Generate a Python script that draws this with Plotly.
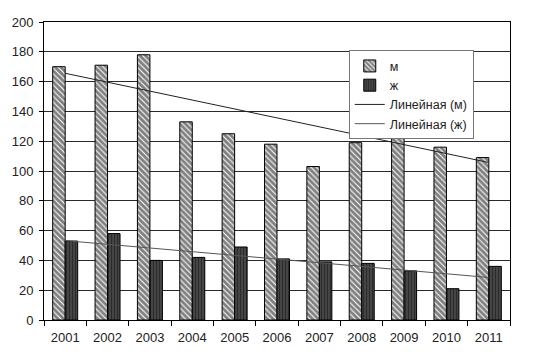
import numpy as np
import plotly.graph_objects as go

years = ["2001", "2002", "2003", "2004", "2005", "2006", "2007", "2008", "2009", "2010", "2011"]
men = [170, 171, 178, 133, 125, 118, 103, 119, 150, 116, 109]
women = [53, 58, 40, 42, 49, 41, 39, 38, 33, 21, 36]
y_ticks = [0, 20, 40, 60, 80, 100, 120, 140, 160, 180, 200]

idx = np.arange(len(years))
men_fit = np.polyval(np.polyfit(idx, men, 1), idx)
women_fit = np.polyval(np.polyfit(idx, women, 1), idx)

fig = go.Figure()
fig.add_trace(go.Bar(
    x=years, y=men, name="м",
    marker=dict(color="white", line=dict(color="black", width=1),
                pattern=dict(shape="\\", fgcolor="black", bgcolor="white", size=4, solidity=0.72)),
))
fig.add_trace(go.Bar(
    x=years, y=women, name="ж",
    marker=dict(color="#3a3a3a", line=dict(color="black", width=1),
                pattern=dict(shape="|", fgcolor="#111111", bgcolor="#454545", size=3, solidity=0.35)),
))
fig.add_trace(go.Scatter(
    x=years, y=men_fit, name="Линейная (м)", mode="lines",
    line=dict(color="#222222", width=1),
))
fig.add_trace(go.Scatter(
    x=years, y=women_fit, name="Линейная (ж)", mode="lines",
    line=dict(color="#555555", width=1),
))

fig.update_layout(
    width=535, height=357,
    margin=dict(l=44, r=25, t=22, b=35),
    paper_bgcolor="white", plot_bgcolor="white",
    barmode="group", bargap=0.41, bargroupgap=0,
    font=dict(family="Liberation Sans, Arial, sans-serif", size=13, color="#222222"),
    showlegend=True,
    legend=dict(x=0.654, y=0.905, xanchor="left", yanchor="top",
                bgcolor="white", bordercolor="#777777", borderwidth=1,
                font=dict(size=12.5, color="#222222"), tracegroupgap=0,
                itemwidth=30),
)
fig.update_xaxes(
    type="category", showgrid=False, showline=True, linecolor="black", linewidth=1,
    mirror=True, ticks="outside", tickson="boundaries", ticklen=5, tickcolor="black",
    tickfont=dict(size=13), ticklabelstandoff=5,
)
fig.update_yaxes(
    range=[0, 200], tickvals=y_ticks, showgrid=True, gridcolor="#2a2a2a", gridwidth=1,
    showline=True, linecolor="black", linewidth=1, mirror=True,
    ticks="outside", ticklen=4, tickcolor="black", tickfont=dict(size=13),
    ticklabelstandoff=3, zeroline=False,
)

fig.write_html(
    "out.html",
    config={"displayModeBar": False},
    post_script="document.body.style.margin='0';document.body.style.overflow='hidden';",
)
